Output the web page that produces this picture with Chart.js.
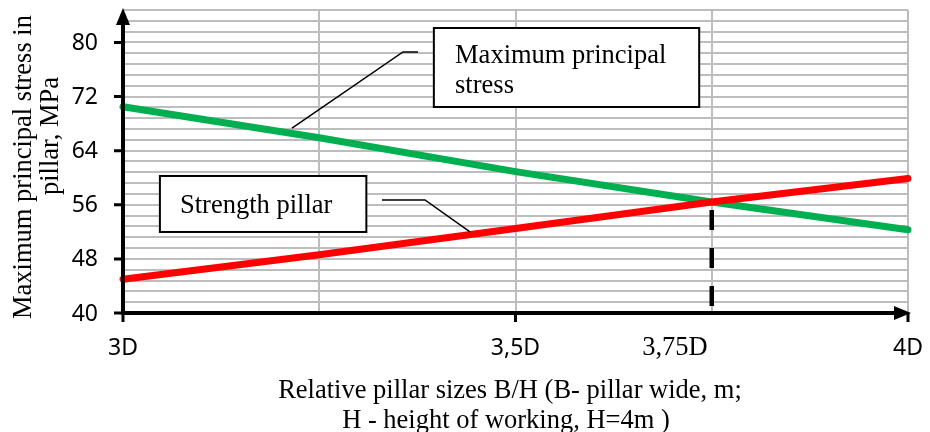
<!DOCTYPE html>
<html>
<head>
<meta charset="utf-8">
<script src="https://cdn.jsdelivr.net/npm/chart.js@4/dist/chart.umd.min.js"></script>
<style>
  html, body { margin: 0; padding: 0; background: #ffffff; }
  #wrap { width: 930px; height: 432px; position: relative; }
</style>
</head>
<body>
<div id="wrap"><canvas id="c" width="930" height="432"></canvas></div>
<script>
// ---- Data ----
const relativeSizes = [3, 3.25, 3.5, 3.75, 4];            // B/H in units of D
const maxPrincipalStress = [70.5, 65.9, 60.9, 56.4, 52.3]; // MPa
const strengthPillar = [45.0, 48.6, 52.5, 56.4, 59.9];     // MPa
const xTickValues = [3, 3.5, 3.75, 4];
const xTickLabels = ['3D', '3,5D', '3,75D', '4D'];
const yTickValues = [40, 48, 56, 64, 72, 80];
const yTickLabels = ['40', '48', '56', '64', '72', '80'];
const xGridValues = [3, 3.25, 3.5, 3.75, 4];
const yMin = 40, yMax = 84.8, yMinorStep = 1.6;
const intersectionX = 3.75;

const yTitle = ['Maximum principal stress in', 'pillar, MPa'];
const xTitle = ['Relative pillar sizes B/H (B- pillar wide, m;', 'H - height of working, H=4m )'];
const calloutStressText = ['Maximum principal', 'stress'];
const calloutStrengthText = ['Strength pillar'];

const SERIF = '"Liberation Serif", "Times New Roman", serif';
const SANS = '"Noto Sans", "Open Sans", sans-serif';

function pts(xs, ys) { return xs.map((x, i) => ({ x: x, y: ys[i] })); }

const overlay = {
  id: 'overlay',
  afterDraw(chart) {
    const ctx = chart.ctx;
    const xs = chart.scales.x, ys = chart.scales.y;
    const X = v => xs.getPixelForValue(v);
    const Y = v => ys.getPixelForValue(v);
    const x0 = X(xs.min), xEnd = X(xs.max);
    const y0 = Y(yMin), yTop = Y(yMax);
    ctx.save();

    // dashed drop line at the intersection
    const iIdx = relativeSizes.indexOf(intersectionX);
    const iy = Y(maxPrincipalStress[iIdx]);
    ctx.strokeStyle = '#000';
    ctx.lineWidth = 4.5;
    ctx.lineCap = 'butt';
    ctx.setLineDash([20, 18]);
    ctx.beginPath();
    ctx.moveTo(X(intersectionX), iy + 8);
    ctx.lineTo(X(intersectionX), y0 - 2);
    ctx.stroke();
    ctx.setLineDash([]);

    // axes
    ctx.lineWidth = 4;
    ctx.beginPath();
    ctx.moveTo(x0, y0 + 2); ctx.lineTo(x0, yTop + 10);
    ctx.moveTo(x0 - 2, y0); ctx.lineTo(xEnd - 10, y0);
    ctx.stroke();
    ctx.fillStyle = '#000';
    ctx.beginPath();
    ctx.moveTo(x0, yTop - 2); ctx.lineTo(x0 - 7, yTop + 15); ctx.lineTo(x0 + 7, yTop + 15); ctx.closePath();
    ctx.fill();
    ctx.beginPath();
    ctx.moveTo(xEnd + 3, y0); ctx.lineTo(xEnd - 14, y0 - 7); ctx.lineTo(xEnd - 14, y0 + 7); ctx.closePath();
    ctx.fill();

    // y ticks + labels
    ctx.lineWidth = 3;
    ctx.beginPath();
    yTickValues.forEach(v => { ctx.moveTo(x0 - 9, Y(v)); ctx.lineTo(x0, Y(v)); });
    ctx.stroke();
    ctx.font = '23px ' + SANS;
    ctx.textAlign = 'right';
    ctx.textBaseline = 'middle';
    yTickValues.forEach((v, i) => ctx.fillText(yTickLabels[i], x0 - 25, Y(v) + 1));

    // x ticks + labels
    ctx.beginPath();
    [3, 3.5, 4].forEach(v => { ctx.moveTo(X(v), y0); ctx.lineTo(X(v), y0 + 9); });
    ctx.stroke();
    ctx.textBaseline = 'alphabetic';
    xTickValues.forEach((v, i) => {
      if (xTickLabels[i] === '3,75D') {
        ctx.font = '26.5px ' + SERIF;
        ctx.textAlign = 'right';
        ctx.fillText(xTickLabels[i], X(v) - 4, y0 + 42);
      } else {
        ctx.font = '23px ' + SANS;
        ctx.textAlign = 'center';
        ctx.fillText(xTickLabels[i], X(v), y0 + 42);
      }
    });

    // axis titles
    ctx.font = '26.5px ' + SERIF;
    ctx.textAlign = 'center';
    ctx.fillText(xTitle[0], 510, y0 + 85, 470);
    ctx.fillText(xTitle[1], 506, y0 + 115, 330);
    ctx.save();
    ctx.translate(31, 167);
    ctx.rotate(-Math.PI / 2);
    ctx.fillText(yTitle[0], 0, 0, 312);
    ctx.restore();
    ctx.save();
    ctx.translate(58, 136);
    ctx.rotate(-Math.PI / 2);
    ctx.fillText(yTitle[1], 0, 0, 120);
    ctx.restore();

    // callouts
    function callout(box, lines, textX, baselines, leader) {
      const bx = X(box[0]), by = Y(box[1]), bw = X(box[2]) - bx, bh = Y(box[3]) - by;
      ctx.lineWidth = 1.5;
      ctx.strokeStyle = '#000';
      ctx.beginPath();
      ctx.moveTo(X(leader[0][0]), Y(leader[0][1]));
      for (let k = 1; k < leader.length; k++) ctx.lineTo(X(leader[k][0]), Y(leader[k][1]));
      ctx.stroke();
      ctx.fillStyle = '#fff';
      ctx.fillRect(bx, by, bw, bh);
      ctx.lineWidth = 2;
      ctx.strokeRect(bx, by, bw, bh);
      ctx.fillStyle = '#000';
      ctx.font = '26.5px ' + SERIF;
      ctx.textAlign = 'left';
      lines.forEach((t, k) => ctx.fillText(t, X(textX), Y(baselines[k])));
    }
    callout([3.396, 82.14, 3.734, 70.46], calloutStressText, 3.423, [76.92, 72.49],
            [[3.3758, 78.59], [3.3567, 78.59], [3.2153, 67.35]]);
    callout([3.047, 60.26, 3.310, 51.98], calloutStrengthText, 3.0726, [54.79],
            [[3.3299, 56.71], [3.3847, 56.71], [3.442, 51.98]]);

    ctx.restore();
  }
};

new Chart(document.getElementById('c'), {
  type: 'line',
  data: {
    datasets: [
      {
        label: 'Strength pillar',
        data: pts(relativeSizes, strengthPillar),
        borderColor: '#FF0000',
        borderWidth: 7,
        borderCapStyle: 'round',
        borderJoinStyle: 'round',
        pointRadius: 0,
        tension: 0,
        clip: false,
        order: 1
      },
      {
        label: 'Maximum principal stress',
        data: pts(relativeSizes, maxPrincipalStress),
        borderColor: '#00B050',
        borderWidth: 7,
        borderCapStyle: 'round',
        borderJoinStyle: 'round',
        pointRadius: 0,
        tension: 0,
        clip: false,
        order: 2
      }
    ]
  },
  options: {
    responsive: false,
    animation: false,
    devicePixelRatio: 1,
    layout: { padding: { left: 123, right: 22, top: 10, bottom: 119 } },
    plugins: { legend: { display: false }, tooltip: { enabled: false } },
    scales: {
      x: {
        type: 'linear',
        min: 3, max: 4,
        afterBuildTicks(s) { s.ticks = xGridValues.map(v => ({ value: v })); },
        afterFit(s) { s.height = 0; },
        ticks: { display: false },
        grid: { color: '#BDBDBD', lineWidth: 2, drawTicks: false },
        border: { display: false }
      },
      y: {
        type: 'linear',
        min: yMin, max: yMax,
        afterBuildTicks(s) {
          const n = Math.round((yMax - yMin) / yMinorStep);
          s.ticks = Array.from({ length: n + 1 }, (_, i) => ({ value: yMin + i * yMinorStep }));
        },
        afterFit(s) { s.width = 0; },
        ticks: { display: false, autoSkip: false },
        grid: { color: '#BDBDBD', lineWidth: 2, drawTicks: false },
        border: { display: false }
      }
    }
  },
  plugins: [overlay]
});
</script>
</body>
</html>
